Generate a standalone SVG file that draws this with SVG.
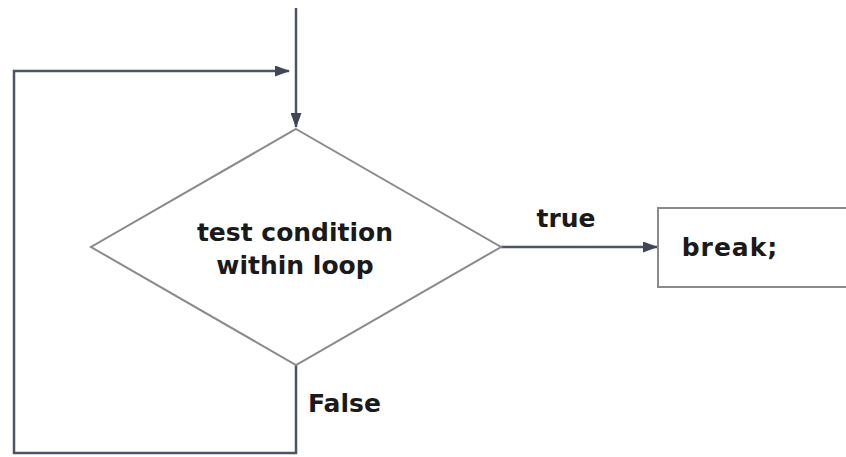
<svg xmlns="http://www.w3.org/2000/svg" width="846" height="457" viewBox="0 0 846 457">
<style>
.conn{fill:none;stroke:#4d5563;stroke-width:2.5}
.shape{fill:#fff;stroke:#8a8a8a;stroke-width:2}
.lbl{font-family:"DejaVu Sans",Verdana,sans-serif;font-weight:bold;font-size:25px;fill:#1a1a1a}
</style>
<defs>
<marker id="ah" markerWidth="15" markerHeight="11" refX="14" refY="5.5" orient="auto" markerUnits="userSpaceOnUse">
<path d="M0,0 L15,5.5 L0,11 Z" fill="#3f4757"/>
</marker>
</defs>
<rect width="846" height="457" fill="#fff"/>
<g id="connectors">
<path class="conn" d="M296,8 V127" marker-end="url(#ah)"/>
<path class="conn" d="M296,365 V453 H14 V71 H289" marker-end="url(#ah)"/>
<path class="conn" d="M501,247 H657" marker-end="url(#ah)"/>
</g>
<g id="decision">
<polygon class="shape" points="296,129 501,247 296,365 91,247"/>
<text class="lbl" x="295" y="241" text-anchor="middle">test condition</text>
<text class="lbl" x="295" y="274" text-anchor="middle">within loop</text>
</g>
<g id="break">
<rect class="shape" x="658" y="208" width="200" height="79"/>
<text class="lbl" x="730" y="256" text-anchor="middle" letter-spacing="1">break;</text>
</g>
<g id="labels">
<text class="lbl" x="566" y="227" text-anchor="middle">true</text>
<text class="lbl" x="308" y="412">False</text>
</g>
</svg>
